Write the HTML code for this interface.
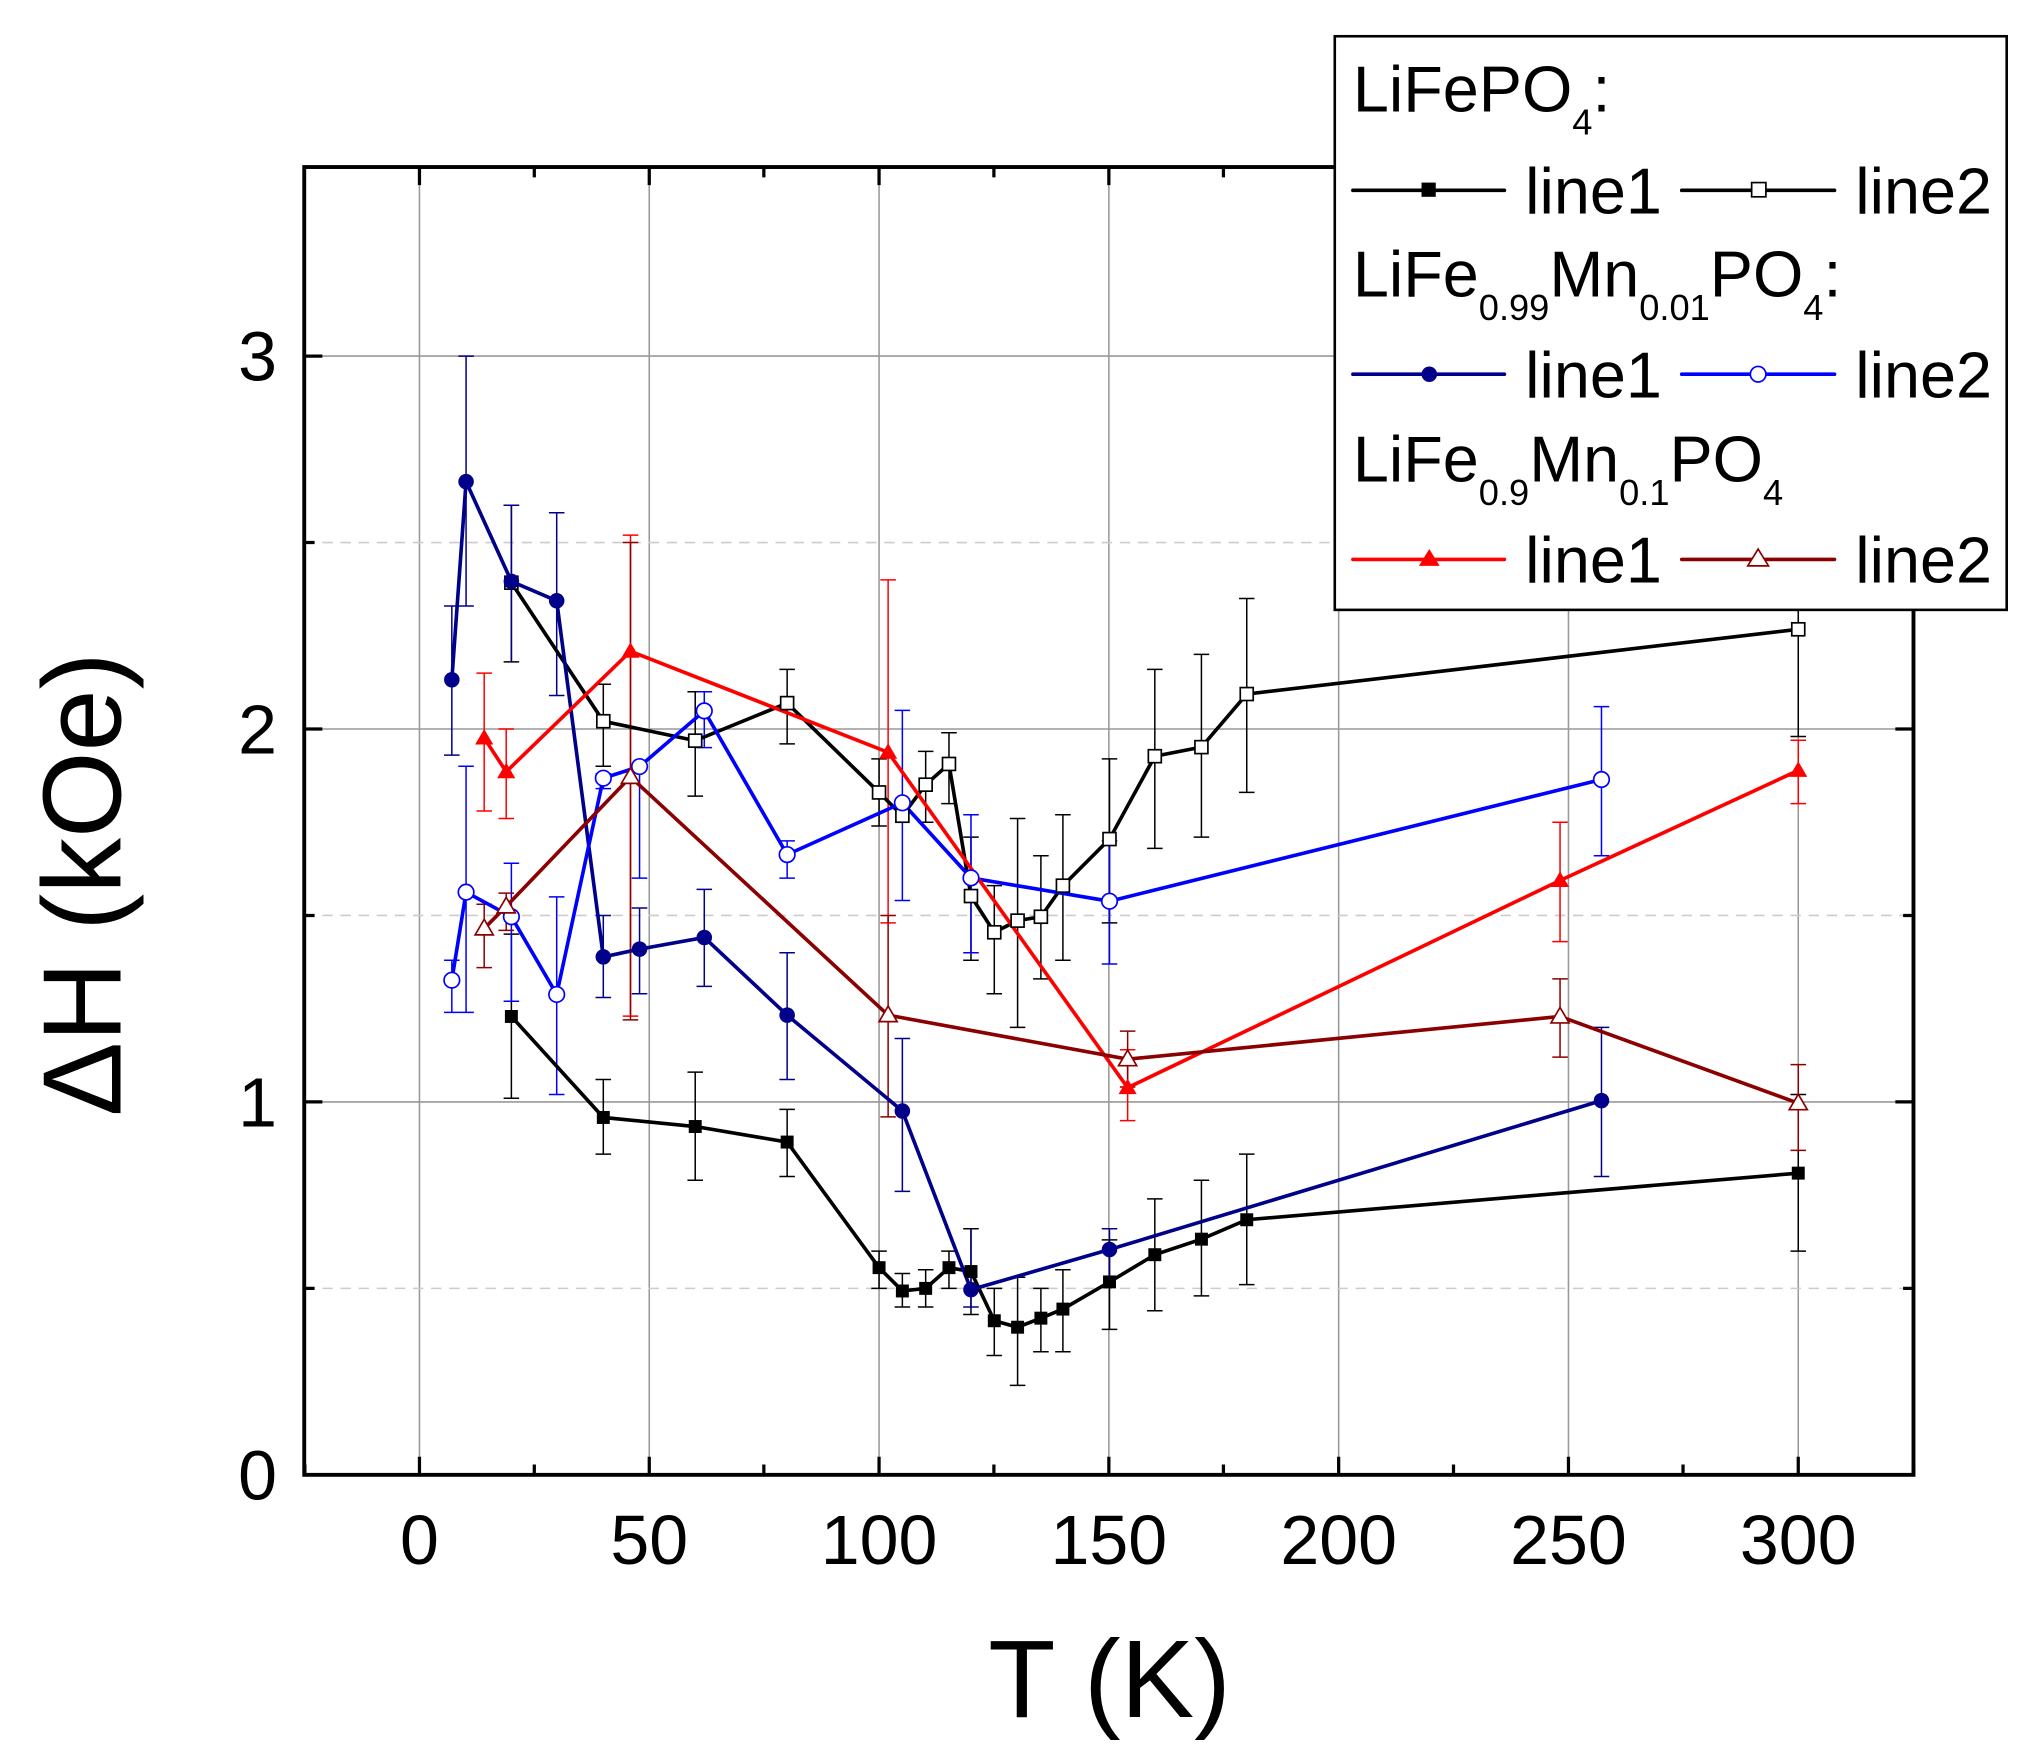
<!DOCTYPE html>
<html><head><meta charset="utf-8"><style>html,body{margin:0;padding:0;background:#fff}svg{display:block}</style></head>
<body>
<svg width="2030" height="1761" viewBox="0 0 1568 1360" preserveAspectRatio="none" xmlns="http://www.w3.org/2000/svg" font-family="Liberation Sans, sans-serif">
<rect width="1568" height="1360" fill="#fff"/>
<!-- grid -->
<g stroke="#999" stroke-width="1.2">
<path d="M324 129V1139M501.5 129V1139M679 129V1139M856.5 129V1139M1034 129V1139M1211.5 129V1139M1389 129V1139M235 851H1478M235 563H1478M235 275H1478"/>
</g>
<g stroke="#ccc" stroke-width="1.2" stroke-dasharray="8,6">
<path d="M235 995H1478M235 707H1478M235 419H1478"/>
</g>
<!-- axes -->
<rect x="235" y="129" width="1243" height="1010" fill="none" stroke="#000" stroke-width="3"/>
<g stroke="#000" stroke-width="2.5">
<path d="M324 1139v-14M501.5 1139v-14M679 1139v-14M856.5 1139v-14M1034 1139v-14M1211.5 1139v-14M1389 1139v-14M324 129v14M501.5 129v14M679 129v14M856.5 129v14M1034 129v14M1211.5 129v14M1389 129v14"/>
<path d="M235 851h14M235 563h14M235 275h14M1478 851h-14M1478 563h-14M1478 275h-14"/>
<path d="M235 995h8M235 707h8M235 419h8M1478 995h-8M1478 707h-8M1478 419h-8"/>
<path d="M235.5 1139v-8M412.7 1139v-8M590 1139v-8M767.7 1139v-8M945 1139v-8M1122.7 1139v-8M1300 1139v-8M1478 1139v-8M412.7 129v8M590 129v8M767.7 129v8M945 129v8M1122.7 129v8M1300 129v8"/>
</g>
<g font-size="54" fill="#000" text-anchor="middle">
<text x="324" y="1208">0</text><text x="501.5" y="1208">50</text><text x="679" y="1208">100</text><text x="856.5" y="1208">150</text><text x="1034" y="1208">200</text><text x="1211.5" y="1208">250</text><text x="1389" y="1208">300</text>
</g>
<g font-size="54" fill="#000" text-anchor="end">
<text x="214" y="1158">0</text><text x="214" y="870">1</text><text x="214" y="582">2</text><text x="214" y="294">3</text>
</g>
<text x="857" y="1326" font-size="85" text-anchor="middle">T (K)</text>
<text transform="translate(93,683) rotate(-90)" font-size="86" text-anchor="middle">ΔH (kOe)</text>

<!-- error bars -->
<g transform="translate(0,1139) scale(1,-288)" fill="none">
<path stroke="#000" vector-effect="non-scaling-stroke" stroke-width="1.5" d="
M395 1.01V1.45M389 1.01H401M389 1.45H401
M466 0.86V1.06M460 0.86H472M460 1.06H472
M537 0.79V1.08M531 0.79H543M531 1.08H543
M608 0.8V0.98M602 0.8H614M602 0.98H614
M679 0.5V0.6M673 0.5H685M673 0.6H685
M697 0.45V0.54M691 0.45H703M691 0.54H703
M715 0.45V0.55M709 0.45H721M709 0.55H721
M733 0.5V0.6M727 0.5H739M727 0.6H739
M750 0.43V0.66M744 0.43H756M744 0.66H756
M768 0.32V0.5M762 0.32H774M762 0.5H774
M786 0.24V0.53M780 0.24H792M780 0.53H792
M804 0.33V0.5M798 0.33H810M798 0.5H810
M821 0.33V0.55M815 0.33H827M815 0.55H827
M857 0.39V0.63M851 0.39H863M851 0.63H863
M892 0.44V0.74M886 0.44H898M886 0.74H898
M928 0.48V0.79M922 0.48H934M922 0.79H934
M963 0.51V0.86M957 0.51H969M957 0.86H969
M1389 0.6V1.02M1383 0.6H1395M1383 1.02H1395
M395 2.18V2.6M389 2.18H401M389 2.6H401
M466 1.9V2.12M460 1.9H472M460 2.12H472
M537 1.82V2.1M531 1.82H543M531 2.1H543
M608 1.96V2.16M602 1.96H614M602 2.16H614
M679 1.74V1.92M673 1.74H685M673 1.92H685
M715 1.75V1.94M709 1.75H721M709 1.94H721
M733 1.8V1.99M727 1.8H739M727 1.99H739
M750 1.38V1.71M744 1.38H756M744 1.71H756
M768 1.29V1.58M762 1.29H774M762 1.58H774
M786 1.2V1.76M780 1.2H792M780 1.76H792
M804 1.33V1.66M798 1.33H810M798 1.66H810
M821 1.38V1.77M815 1.38H827M815 1.77H827
M857 1.48V1.92M851 1.48H863M851 1.92H863
M892 1.68V2.16M886 1.68H898M886 2.16H898
M928 1.71V2.2M922 1.71H934M922 2.2H934
M963 1.83V2.35M957 1.83H969M957 2.35H969
M1389 1.98V2.55M1383 1.98H1395"/>
<path stroke="#00008b" vector-effect="non-scaling-stroke" stroke-width="1.5" d="
M349 1.93V2.33M343 1.93H355M343 2.33H355
M360 2.33V3.0M354 2.33H366M354 3.0H366
M395 2.18V2.6M389 2.6H401
M430 2.09V2.58M424 2.09H436M424 2.58H436
M466 1.28V1.5M460 1.28H472M460 1.5H472
M494 1.29V1.52M488 1.29H500M488 1.52H500
M544 1.31V1.57M538 1.31H550M538 1.57H550
M608 1.06V1.4M602 1.06H614M602 1.4H614
M697 0.76V1.17M691 0.76H703M691 1.17H703
M750 0.45V0.66M744 0.45H756
M857 0.53V0.66M851 0.66H863
M1237 0.8V1.2M1231 0.8H1243M1231 1.2H1243"/>
<path stroke="#0000ff" vector-effect="non-scaling-stroke" stroke-width="1.5" d="
M349 1.24V1.38M343 1.24H355M343 1.38H355
M360 1.24V1.9M354 1.24H366M354 1.9H366
M395 1.27V1.64M389 1.27H401M389 1.64H401
M430 1.02V1.55M424 1.02H436M424 1.55H436
M466 1.84V1.88M460 1.84H472M460 1.88H472
M494 1.6V1.9M488 1.6H500M488 1.9H500
M544 1.95V2.1M538 1.95H550M538 2.1H550
M608 1.6V1.7M602 1.6H614M602 1.7H614
M697 1.54V2.05M691 1.54H703M691 2.05H703
M750 1.4V1.77M744 1.4H756M744 1.77H756
M857 1.37V1.7M851 1.37H863M851 1.7H863
M1237 1.66V2.06M1231 1.66H1243M1231 2.06H1243"/>
<path stroke="#ff0000" vector-effect="non-scaling-stroke" stroke-width="1.5" d="
M374 1.78V2.15M368 1.78H380M368 2.15H380
M391 1.76V2.0M385 1.76H397M385 2.0H397
M487 1.23V2.52M481 1.23H493M481 2.52H493
M686 1.48V2.4M680 1.48H692M680 2.4H692
M871 0.95V1.14M865 0.95H877M865 1.14H877
M1205 1.43V1.75M1199 1.43H1211M1199 1.75H1211
M1389 1.8V1.97M1383 1.8H1395M1383 1.97H1395"/>
<path stroke="#8b0000" vector-effect="non-scaling-stroke" stroke-width="1.5" d="
M374 1.36V1.53M368 1.36H380M368 1.53H380
M391 1.46V1.56M385 1.46H397M385 1.56H397
M487 1.22V2.5M481 1.22H493M481 2.5H493
M686 0.96V1.5M680 0.96H692M680 1.5H692
M871 1.04V1.19M865 1.04H877M865 1.19H877
M1205 1.12V1.33M1199 1.12H1211M1199 1.33H1211
M1389 0.87V1.1M1383 0.87H1395M1383 1.1H1395"/>
</g>

<!-- series lines -->
<g fill="none" stroke-width="2.8">
<polyline stroke="#000" points="395,785 466,863 537,870 608,882 679,979 697,997 715,995 733,979 750,982 768,1020 786,1025 804,1018 821,1011 857,990 892,969 928,957 963,942 1389,906"/>
<polyline stroke="#000" points="395,450 466,557 537,572 608,543 679,612 697,630 715,606 733,590 750,692 768,720 786,711 804,708 821,684 857,648 892,584 928,577 963,536 1389,486"/>
<polyline stroke="#00008b" points="349,525 360,372 395,449 430,464 466,739 494,733 544,724 608,784 697,858 750,996 857,965 1237,850"/>
<polyline stroke="#0000ff" points="349,757 360,689 395,708 430,768 466,601 494,592 544,549 608,660 697,620 750,678 857,696 1237,602"/>
<polyline stroke="#ff0000" points="374,570 391,596 487,503 686,581 871,840 1205,680 1389,595"/>
<polyline stroke="#8b0000" points="374,717 391,700 487,600 686,784 871,818 1205,785 1389,852"/>
</g>

<!-- markers -->
<g fill="#000">
<rect x="390" y="780" width="10" height="10"/><rect x="461" y="858" width="10" height="10"/><rect x="532" y="865" width="10" height="10"/><rect x="603" y="877" width="10" height="10"/><rect x="674" y="974" width="10" height="10"/><rect x="692" y="992" width="10" height="10"/><rect x="710" y="990" width="10" height="10"/><rect x="728" y="974" width="10" height="10"/><rect x="745" y="977" width="10" height="10"/><rect x="763" y="1015" width="10" height="10"/><rect x="781" y="1020" width="10" height="10"/><rect x="799" y="1013" width="10" height="10"/><rect x="816" y="1006" width="10" height="10"/><rect x="852" y="985" width="10" height="10"/><rect x="887" y="964" width="10" height="10"/><rect x="923" y="952" width="10" height="10"/><rect x="958" y="937" width="10" height="10"/><rect x="1384" y="901" width="10" height="10"/>
</g>
<g fill="#fff" stroke="#000" stroke-width="1.3">
<rect x="390" y="445" width="10" height="10"/><rect x="461" y="552" width="10" height="10"/><rect x="532" y="567" width="10" height="10"/><rect x="603" y="538" width="10" height="10"/><rect x="674" y="607" width="10" height="10"/><rect x="692" y="625" width="10" height="10"/><rect x="710" y="601" width="10" height="10"/><rect x="728" y="585" width="10" height="10"/><rect x="745" y="687" width="10" height="10"/><rect x="763" y="715" width="10" height="10"/><rect x="781" y="706" width="10" height="10"/><rect x="799" y="703" width="10" height="10"/><rect x="816" y="679" width="10" height="10"/><rect x="852" y="643" width="10" height="10"/><rect x="887" y="579" width="10" height="10"/><rect x="923" y="572" width="10" height="10"/><rect x="958" y="531" width="10" height="10"/><rect x="1384" y="481" width="10" height="10"/>
</g>
<g fill="#00008b">
<circle cx="349" cy="525" r="6"/><circle cx="360" cy="372" r="6"/><circle cx="395" cy="449" r="6"/><circle cx="430" cy="464" r="6"/><circle cx="466" cy="739" r="6"/><circle cx="494" cy="733" r="6"/><circle cx="544" cy="724" r="6"/><circle cx="608" cy="784" r="6"/><circle cx="697" cy="858" r="6"/><circle cx="750" cy="996" r="6"/><circle cx="857" cy="965" r="6"/><circle cx="1237" cy="850" r="6"/>
</g>
<g fill="#fff" stroke="#0000ff" stroke-width="1.3">
<circle cx="349" cy="757" r="6"/><circle cx="360" cy="689" r="6"/><circle cx="395" cy="708" r="6"/><circle cx="430" cy="768" r="6"/><circle cx="466" cy="601" r="6"/><circle cx="494" cy="592" r="6"/><circle cx="544" cy="549" r="6"/><circle cx="608" cy="660" r="6"/><circle cx="697" cy="620" r="6"/><circle cx="750" cy="678" r="6"/><circle cx="857" cy="696" r="6"/><circle cx="1237" cy="602" r="6"/>
</g>
<g fill="#ff0000">
<path d="M374 563l7 12h-14z M391 589l7 12h-14z M487 496l7 12h-14z M686 574l7 12h-14z M871 833l7 12h-14z M1205 673l7 12h-14z M1389 588l7 12h-14z"/>
</g>
<g fill="#fff" stroke="#8b0000" stroke-width="1.3">
<path d="M374 710l7 12h-14z M391 693l7 12h-14z M487 593l7 12h-14z M686 777l7 12h-14z M871 811l7 12h-14z M1205 778l7 12h-14z M1389 845l7 12h-14z"/>
</g>

<!-- legend -->
<rect x="1031" y="28" width="519" height="443" fill="#fff" stroke="#000" stroke-width="2"/>
<g font-size="50" fill="#000">
<text x="1045" y="86">LiFePO<tspan font-size="28" dy="18">4</tspan><tspan dy="-18">:</tspan></text>
<text x="1178" y="165">line1</text><text x="1433" y="165">line2</text>
<text x="1045" y="229">LiFe<tspan font-size="28" dy="18">0.99</tspan><tspan dy="-18">Mn</tspan><tspan font-size="28" dy="18">0.01</tspan><tspan dy="-18">PO</tspan><tspan font-size="28" dy="18">4</tspan><tspan dy="-18">:</tspan></text>
<text x="1178" y="307">line1</text><text x="1433" y="307">line2</text>
<text x="1045" y="372">LiFe<tspan font-size="28" dy="18">0.9</tspan><tspan dy="-18">Mn</tspan><tspan font-size="28" dy="18">0.1</tspan><tspan dy="-18">PO</tspan><tspan font-size="28" dy="18">4</tspan></text>
<text x="1178" y="450">line1</text><text x="1433" y="450">line2</text>
</g>
<g stroke-width="2.8" stroke-linecap="round">
<path stroke="#000" d="M1045 147H1162M1299 147H1417"/>
<path stroke="#00008b" d="M1045 289H1162"/><path stroke="#0000ff" d="M1299 289H1417"/>
<path stroke="#ff0000" d="M1045 432H1162"/><path stroke="#8b0000" d="M1299 432H1417"/>
</g>
<rect x="1098" y="141" width="11" height="11" fill="#000"/>
<rect x="1353" y="141" width="11" height="11" fill="#fff" stroke="#000" stroke-width="1.3"/>
<circle cx="1104" cy="289" r="6" fill="#00008b"/>
<circle cx="1358" cy="289" r="6" fill="#fff" stroke="#0000ff" stroke-width="1.3"/>
<path d="M1104 424l8 13h-16z" fill="#ff0000"/>
<path d="M1358 424l8 13h-16z" fill="#fff" stroke="#8b0000" stroke-width="1.3"/>
</svg>
</body></html>
